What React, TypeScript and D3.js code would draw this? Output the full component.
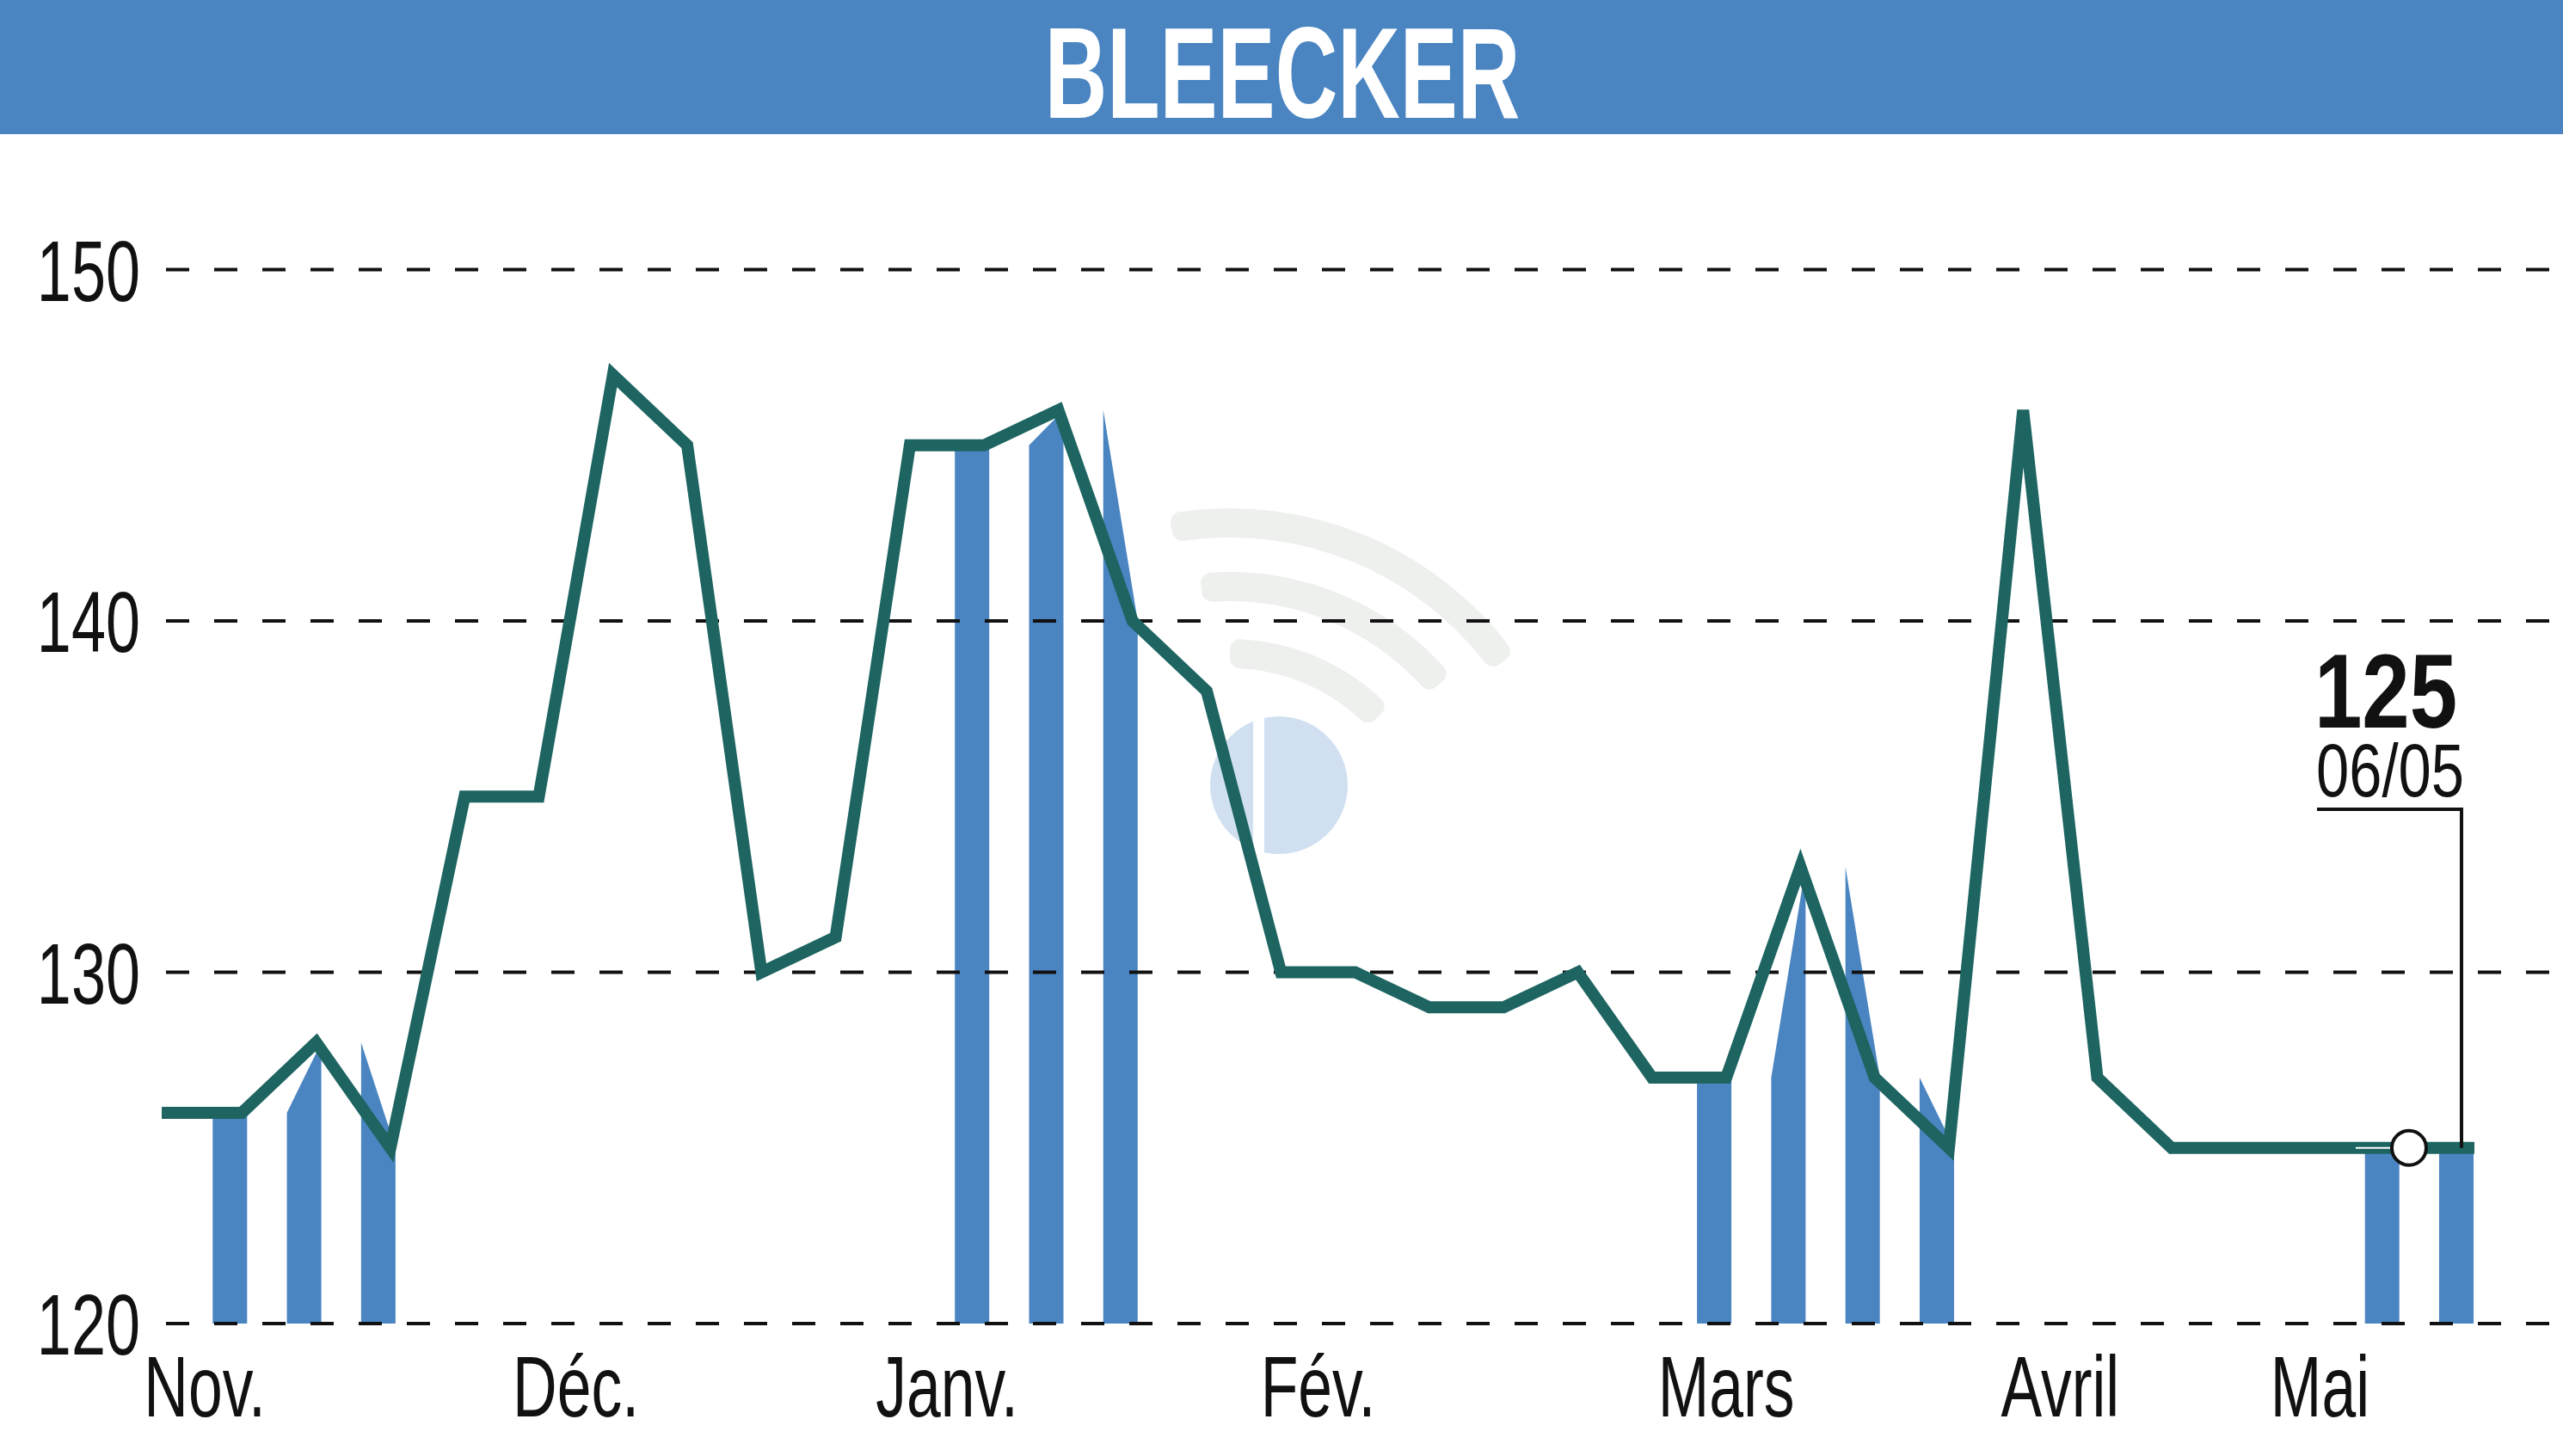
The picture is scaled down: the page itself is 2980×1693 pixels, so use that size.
import React from "react";
import * as d3 from "d3";

const title = "BLEECKER";
// weekly closing values, Nov. -> Mai
const prices = [
  126, 126, 128, 125, 135, 135, 147, 145, 130, 131, 145, 145, 146, 140, 138, 130,
  130, 129, 129, 130, 127, 127, 133, 127, 125, 146, 127, 125, 125, 125, 125, 125,
];
// weeks that show a volume column
const barWeeks = [1, 2, 3, 11, 12, 13, 21, 22, 23, 24, 30, 31];
const yTicks = [120, 130, 140, 150];
const monthLabels = ["Nov.", "Déc.", "Janv.", "Fév.", "Mars", "Avril", "Mai"];
const monthPos = [0.5, 5.5, 10.5, 15.5, 21, 25.5, 29];
const lastValue = "125";
const lastDate = "06/05";
const markerPos = 30.2;

const W = 2980;
const H = 1693;
const FONT = "'Liberation Sans', Arial, sans-serif";
const BLUE = "#4a85c2";
const TEAL = "#1e6562";

export default function App() {
  const x = d3.scaleLinear().domain([0, prices.length - 1]).range([195, 2870]);
  const y = d3.scaleLinear().domain([120, 150]).range([1539, 313.5]);

  const line = d3
    .line<number>()
    .x((_, i) => x(i))
    .y((d) => y(d));

  const barArea = d3
    .area<[number, number]>()
    .x((d) => d[0])
    .y0(y(120))
    .y1((d) => y(d[1]));

  const last = prices.length - 1;
  const lastY = y(prices[last]);
  const calloutX = x(last) - 8;

  // faint watermark arcs
  const wmArc = d3.arc<{ r: number; a0: number; a1: number }>()
    .innerRadius((d) => d.r - 17)
    .outerRadius((d) => d.r + 17)
    .startAngle((d) => d.a0)
    .endAngle((d) => d.a1)
    .cornerRadius(12);
  const rad = Math.PI / 180;
  const arcs = [
    { r: 392, a0: -10 * rad, a1: 54 * rad },
    { r: 318, a0: -6 * rad, a1: 50 * rad },
    { r: 240, a0: 0, a1: 46 * rad },
  ];

  return (
    <svg
      width={W}
      height={H}
      style={{ position: "absolute", left: 0, top: 0, background: "#fff" }}
      fontFamily={FONT}
    >
      <rect x={0} y={0} width={W} height={156} fill={BLUE} />
      <g transform={`translate(1491,137) scale(0.67,1)`}>
        <text textAnchor="middle" fontSize={150} fontWeight="bold" fill="#fff">
          {title}
        </text>
      </g>

      {/* watermark */}
      <g transform="translate(1430,1000)">
        {arcs.map((a, i) => (
          <path key={i} d={wmArc(a) || ""} fill="#eef0ee" />
        ))}
      </g>
      <circle cx={1487} cy={913} r={80} fill="#c8daee" opacity={0.85} />
      <rect x={1457} y={830} width={13} height={170} fill="#fff" />

      {/* volume columns */}
      {barWeeks.map((i) => (
        <path
          key={i}
          d={
            barArea([
              [x(i) - 34, prices[i - 1]],
              [x(i) + 6, prices[i]],
            ]) || ""
          }
          fill={BLUE}
        />
      ))}

      {/* gridlines */}
      {yTicks.map((t) => (
        <line
          key={t}
          x1={193}
          x2={W}
          y1={y(t)}
          y2={y(t)}
          stroke="#111"
          strokeWidth={4}
          strokeDasharray="27 29"
        />
      ))}

      {yTicks.map((t) => (
        <g key={t} transform={`translate(163,${y(t) + 36}) scale(0.72,1)`}>
          <text textAnchor="end" fontSize={100} fill="#111">
            {t}
          </text>
        </g>
      ))}

      {monthLabels.map((m, i) => (
        <g key={m} transform={`translate(${x(monthPos[i])},1647) scale(0.715,1)`}>
          <text textAnchor="middle" fontSize={100} fill="#111">
            {m}
          </text>
        </g>
      ))}

      {/* price line */}
      <path
        d={line(prices) || ""}
        fill="none"
        stroke={TEAL}
        strokeWidth={14}
        strokeLinejoin="miter"
        strokeLinecap="square"
      />

      {/* last value callout */}
      <g transform={`translate(${calloutX - 88},846) scale(0.81,1)`}>
        <text textAnchor="middle" fontSize={123} fontWeight="bold" fill="#111">
          {lastValue}
        </text>
      </g>
      <g transform={`translate(${calloutX - 83},926) scale(0.79,1)`}>
        <text textAnchor="middle" fontSize={87} fill="#111">
          {lastDate}
        </text>
      </g>
      <polyline
        points={`${calloutX - 168},941 ${calloutX},941 ${calloutX},${lastY}`}
        fill="none"
        stroke="#111"
        strokeWidth={4}
      />
      <line
        x1={x(markerPos) - 62}
        x2={x(markerPos) - 20}
        y1={lastY}
        y2={lastY}
        stroke="#fff"
        strokeWidth={2}
      />
      <circle cx={x(markerPos)} cy={lastY} r={20} fill="#fff" stroke="#111" strokeWidth={4} />
    </svg>
  );
}
